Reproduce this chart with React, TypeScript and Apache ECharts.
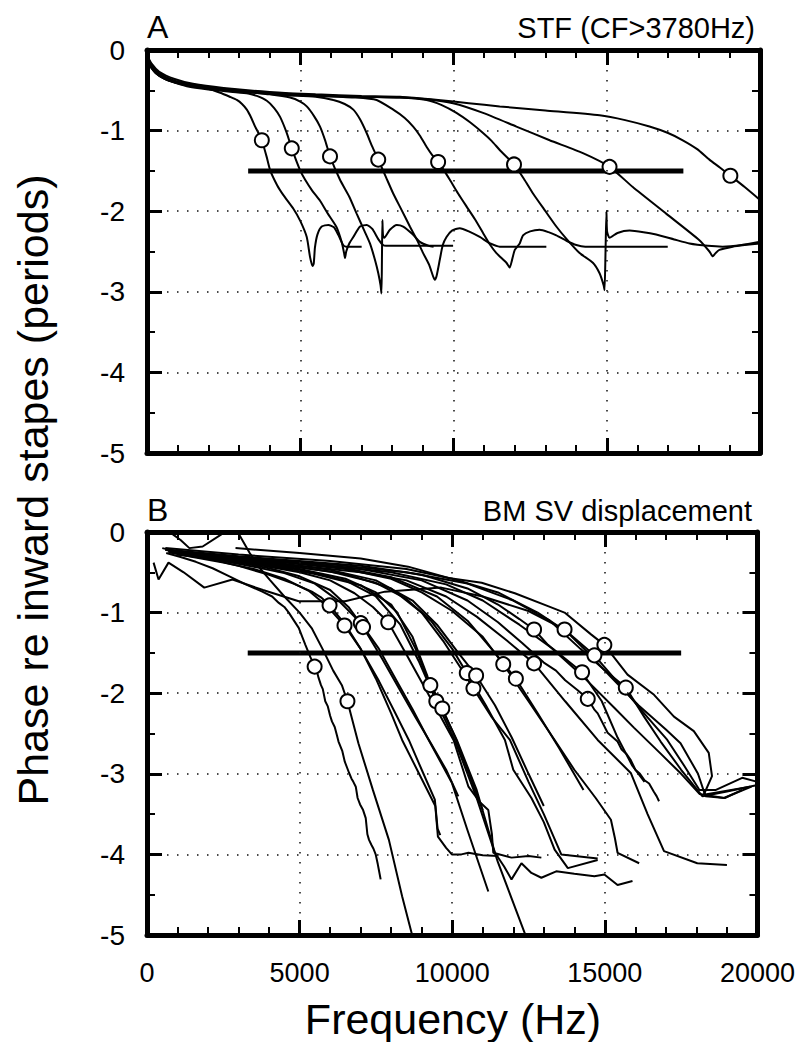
import React, { useEffect, useRef } from "react";
import * as echarts from "echarts";

// ---------- Axis ticks ----------
const freqTicks = [0, 5000, 10000, 15000, 20000];
const phaseTicks = [0, -1, -2, -3, -4, -5];
const criterionLevel = -1.5;
const criterionRange = [3300, 17500];

// ---------- Panel A: STF curves (frequency Hz, phase periods) ----------
const stfCF3750 = [[0,-0.06],[120,-0.2],[300,-0.29],[600,-0.36],[1000,-0.41],[1500,-0.44],[2000,-0.48],[2390,-0.53],[2700,-0.58],[2930,-0.62],[3100,-0.67],[3257,-0.74],[3400,-0.84],[3528,-0.95],[3650,-1.04],[3746,-1.12],[3900,-1.32],[4016,-1.49],[4250,-1.68],[4450,-1.8],[4776,-1.97],[5000,-2.12],[5212,-2.32],[5320,-2.57],[5400,-2.68],[5440,-2.65],[5480,-2.45],[5560,-2.29],[5700,-2.19],[5917,-2.17],[6100,-2.2],[6250,-2.3],[6400,-2.42],[6500,-2.44],[7003,-2.44]];
const stfCF4720 = [[0,-0.1],[150,-0.23],[400,-0.32],[800,-0.39],[1300,-0.45],[2000,-0.49],[2800,-0.52],[3300,-0.54],[3583,-0.57],[3909,-0.63],[4150,-0.72],[4342,-0.83],[4550,-1.02],[4723,-1.22],[4993,-1.49],[5160,-1.61],[5400,-1.75],[5645,-1.87],[5900,-2.03],[6188,-2.2],[6350,-2.38],[6430,-2.52],[6460,-2.58],[6500,-2.5],[6600,-2.4],[6731,-2.32],[6950,-2.19],[7166,-2.17],[7350,-2.22],[7550,-2.35],[7700,-2.42],[7800,-2.43],[9987,-2.43]];
const stfCF5970 = [[0,-0.05],[100,-0.17],[300,-0.29],[700,-0.38],[1200,-0.43],[2000,-0.47],[3000,-0.51],[4000,-0.55],[4668,-0.59],[5000,-0.64],[5212,-0.7],[5450,-0.82],[5645,-0.95],[5820,-1.13],[5971,-1.32],[6297,-1.61],[6600,-1.82],[6840,-2.03],[7100,-2.25],[7274,-2.4],[7450,-2.62],[7546,-2.77],[7620,-2.92],[7650,-3.02],[7665,-2.6],[7680,-2.11],[7700,-2.3],[7740,-2.33],[7925,-2.23],[8150,-2.17],[8358,-2.19],[8650,-2.28],[8903,-2.38],[9200,-2.43],[9350,-2.44]];
const stfCF7540 = [[0,-0.08],[150,-0.21],[400,-0.3],[900,-0.39],[1500,-0.44],[2500,-0.49],[3500,-0.53],[4500,-0.56],[5500,-0.58],[6080,-0.62],[6450,-0.67],[6731,-0.74],[6950,-0.86],[7166,-1.03],[7350,-1.2],[7544,-1.36],[7800,-1.58],[8033,-1.78],[8300,-1.98],[8577,-2.19],[8800,-2.35],[9010,-2.52],[9200,-2.66],[9336,-2.81],[9391,-2.85],[9450,-2.8],[9554,-2.6],[9650,-2.42],[9772,-2.32],[9950,-2.24],[10205,-2.21],[10500,-2.25],[10857,-2.32],[11200,-2.4],[11508,-2.44],[13029,-2.44]];
const stfCF9500 = [[0,-0.1],[150,-0.22],[500,-0.33],[1000,-0.4],[1700,-0.44],[2800,-0.5],[4000,-0.54],[5500,-0.57],[6800,-0.59],[7492,-0.62],[8033,-0.74],[8400,-0.84],[8685,-0.95],[8900,-1.06],[9120,-1.2],[9300,-1.3],[9498,-1.39],[9700,-1.5],[9880,-1.61],[10150,-1.78],[10423,-1.94],[10700,-2.1],[10964,-2.27],[11200,-2.42],[11400,-2.52],[11726,-2.64],[11834,-2.7],[11900,-2.62],[12000,-2.48],[12160,-2.4],[12268,-2.3],[12500,-2.25],[12811,-2.23],[13100,-2.26],[13355,-2.3],[13700,-2.37],[14007,-2.42],[14300,-2.44],[16990,-2.44]];
const stfCF11970 = [[0,-0.07],[150,-0.19],[400,-0.29],[900,-0.38],[1500,-0.43],[2500,-0.48],[4000,-0.53],[5500,-0.56],[7000,-0.58],[8254,-0.59],[9120,-0.62],[9600,-0.68],[10097,-0.78],[10550,-0.9],[10964,-1.03],[11250,-1.13],[11508,-1.24],[11974,-1.42],[12300,-1.6],[12594,-1.78],[13000,-2.0],[13355,-2.19],[13700,-2.35],[14114,-2.52],[14547,-2.64],[14766,-2.77],[14900,-2.92],[14929,-2.98],[14960,-2.5],[14990,-2.0],[15010,-2.25],[15091,-2.33],[15350,-2.27],[15743,-2.24],[16200,-2.26],[16612,-2.29],[17200,-2.35],[17698,-2.4],[18300,-2.43],[18782,-2.44],[19400,-2.42],[20000,-2.38]];
const stfCF15090 = [[0,-0.09],[150,-0.2],[400,-0.3],[900,-0.39],[1500,-0.44],[2500,-0.49],[4000,-0.53],[5500,-0.56],[7000,-0.58],[8254,-0.59],[9120,-0.61],[9987,-0.66],[10964,-0.78],[12052,-0.95],[13137,-1.12],[14222,-1.28],[15091,-1.45],[15850,-1.7],[16938,-2.03],[18023,-2.36],[18350,-2.5],[18458,-2.56],[18550,-2.52],[18675,-2.48],[19108,-2.44],[19500,-2.42],[20000,-2.4]];
const stfCF19030 = [[0,-0.06],[150,-0.17],[400,-0.27],[900,-0.36],[1500,-0.42],[2500,-0.47],[4000,-0.52],[5500,-0.55],[7000,-0.57],[8254,-0.58],[9500,-0.62],[10500,-0.66],[11508,-0.7],[13000,-0.75],[14766,-0.81],[15600,-0.87],[16395,-0.95],[17000,-1.03],[17480,-1.12],[17950,-1.23],[18349,-1.36],[18700,-1.46],[19033,-1.56],[19500,-1.7],[20000,-1.86]];
const stfCurves = [stfCF3750, stfCF4720, stfCF5970, stfCF7540, stfCF9500, stfCF11970, stfCF15090, stfCF19030];
const stfCircleF = [3746, 4723, 5971, 7544, 9498, 11974, 15091, 19033];
const stfCircleP = [-1.12, -1.22, -1.32, -1.36, -1.39, -1.42, -1.45, -1.56];

// ---------- Panel B: BM SV displacement curves ----------
const bm01 = [[630,-0.26],[1100,-0.31],[1600,-0.37],[2150,-0.45],[2700,-0.55],[3235,-0.65],[3778,-0.74],[4100,-0.8],[4319,-0.88],[4500,-0.93],[4645,-1.0],[4971,-1.19],[5189,-1.4],[5350,-1.55],[5492,-1.67],[5560,-1.72],[5622,-1.81],[5700,-1.9],[5760,-1.95],[5840,-2.1],[5920,-2.16],[6000,-2.28],[6059,-2.35],[6150,-2.42],[6220,-2.52],[6274,-2.6],[6400,-2.72],[6480,-2.85],[6622,-2.99],[6700,-3.06],[6760,-3.1],[6840,-3.16],[6900,-3.3],[6980,-3.38],[7080,-3.45],[7166,-3.55],[7220,-3.75],[7274,-3.82],[7350,-3.88],[7420,-3.93],[7492,-4.0],[7560,-4.12],[7600,-4.2],[7655,-4.31]];
const bm02 = [[846,-0.03],[1100,-0.1],[1389,-0.2],[1824,-0.18],[2476,-0.02],[2700,0.02],[3017,-0.03],[3365,-0.26],[3700,-0.45],[4016,-0.59],[4500,-0.8],[5000,-1.0],[5407,-1.2],[5750,-1.45],[6100,-1.72],[6384,-1.9],[6567,-2.1],[6926,-2.62],[7400,-3.2],[7925,-3.82],[8358,-4.52],[8720,-5.05]];
const bm03 = [[500,-0.2],[1200,-0.26],[2000,-0.33],[3000,-0.42],[4000,-0.53],[4800,-0.64],[5400,-0.74],[5700,-0.81],[5981,-0.91],[6500,-1.15],[7000,-1.45],[7500,-1.82],[8000,-2.25],[8358,-2.58],[8902,-2.99],[9446,-3.4],[9490,-3.6],[9531,-3.78],[9800,-3.92],[9987,-4.0],[10300,-4.0],[10531,-3.98],[11000,-4.01],[11508,-4.02]];
const bm04 = [[700,-0.25],[1500,-0.31],[2500,-0.38],[3500,-0.46],[4500,-0.58],[5300,-0.73],[5900,-0.92],[6470,-1.16],[7000,-1.45],[7600,-1.85],[8100,-2.22],[8577,-2.58],[9000,-2.95],[9430,-3.32],[9520,-3.68],[9608,-3.76]];
const bm05 = [[600,-0.22],[1500,-0.29],[2500,-0.36],[3500,-0.43],[4500,-0.51],[5500,-0.64],[6300,-0.86],[7003,-1.13],[7600,-1.45],[8200,-1.86],[8700,-2.2],[9228,-2.58],[9987,-3.11],[10500,-3.7],[11182,-4.46]];
const bm06 = [[1000,-0.27],[2000,-0.32],[3000,-0.38],[4000,-0.45],[5000,-0.55],[6000,-0.72],[6600,-0.93],[7078,-1.18],[7700,-1.57],[8300,-1.97],[8800,-2.3],[9300,-2.62],[9800,-2.95],[10200,-3.28]];
const bm07 = [[1000,-0.28],[2000,-0.33],[3500,-0.4],[5000,-0.5],[6000,-0.6],[6800,-0.76],[7400,-0.93],[7903,-1.12],[8500,-1.52],[9200,-2.0],[10042,-2.58],[10531,-3.16],[10900,-3.35],[11182,-3.45],[11300,-3.75],[11345,-3.98],[11942,-4.04],[12500,-4.02],[12920,-4.04]];
const bm08 = [[800,-0.23],[2000,-0.3],[3500,-0.37],[5000,-0.46],[6500,-0.58],[7500,-0.75],[8200,-1.0],[8800,-1.45],[9283,-1.9],[10150,-2.58],[10800,-3.2],[11400,-3.98],[11700,-4.15],[11942,-4.31],[12268,-4.11],[12594,-4.23],[12920,-4.29],[13407,-4.21],[14000,-4.24],[14658,-4.27],[14984,-4.25],[15417,-4.38],[15906,-4.33]];
const bm09 = [[700,-0.24],[2000,-0.31],[3500,-0.38],[5000,-0.47],[6500,-0.6],[7500,-0.8],[8300,-1.15],[8900,-1.6],[9478,-2.1],[10100,-2.6],[10800,-3.3],[11500,-4.1],[12378,-4.98],[12420,-5.05]];
const bm10 = [[900,-0.26],[2500,-0.34],[4000,-0.42],[5500,-0.52],[7000,-0.66],[8000,-0.9],[8700,-1.3],[9200,-1.8],[9674,-2.19],[10100,-2.55],[10600,-3.05],[11000,-3.45]];
const bm11 = [[800,-0.25],[2000,-0.31],[4000,-0.39],[6000,-0.49],[7500,-0.63],[8500,-0.83],[9300,-1.1],[10000,-1.45],[10476,-1.75],[11100,-2.15],[11726,-2.58],[12000,-2.95],[12594,-3.3],[13000,-3.6],[13355,-3.94],[13788,-4.17],[14765,-4.07]];
const bm12 = [[1000,-0.27],[2500,-0.33],[4500,-0.41],[6500,-0.52],[8000,-0.7],[9000,-1.0],[9700,-1.35],[10300,-1.7],[10694,-1.94],[11300,-2.3],[11889,-2.58],[12500,-3.1],[13000,-3.5],[13572,-4.0],[14765,-4.05]];
const bm13 = [[600,-0.22],[2000,-0.29],[4000,-0.37],[6000,-0.47],[7500,-0.6],[8700,-0.85],[9500,-1.15],[10200,-1.5],[10782,-1.78],[11400,-2.15],[11950,-2.55],[12500,-3.0],[13000,-3.4]];
const bm14 = [[900,-0.25],[2500,-0.31],[4500,-0.38],[6500,-0.46],[8000,-0.58],[9000,-0.75],[10000,-0.98],[11000,-1.3],[11671,-1.64],[12500,-2.1],[13355,-2.58],[14000,-2.95],[14700,-3.3],[15199,-3.57],[15330,-3.8],[15417,-3.98],[16124,-4.11]];
const bm15 = [[700,-0.23],[2500,-0.3],[4500,-0.37],[6500,-0.45],[8000,-0.56],[9500,-0.8],[10500,-1.1],[11400,-1.5],[12085,-1.82],[12800,-2.25],[13500,-2.68],[14300,-3.2]];
const bm16 = [[1000,-0.28],[3000,-0.35],[5000,-0.42],[7000,-0.5],[8500,-0.6],[9800,-0.8],[10800,-1.05],[11800,-1.35],[12681,-1.63],[13700,-2.1],[14765,-2.58],[15850,-2.99],[16400,-3.5],[16938,-3.96],[18029,-4.11],[19000,-4.13]];
const bm17 = [[800,-0.24],[3000,-0.32],[5000,-0.38],[7000,-0.46],[9000,-0.6],[10500,-0.85],[11500,-1.12],[12300,-1.38],[13000,-1.62],[13400,-1.72],[13700,-1.84],[14100,-1.96],[14440,-2.07],[14650,-2.2],[14766,-2.25],[15091,-2.49],[15417,-2.6],[15550,-2.7],[15700,-2.75],[15850,-2.83],[16000,-2.95],[16150,-3.0],[16300,-3.08],[16450,-3.12],[16600,-3.22],[16700,-3.28],[16775,-3.34]];
const bm18 = [[700,-0.22],[3000,-0.3],[5000,-0.36],[7000,-0.42],[9000,-0.53],[10500,-0.7],[11500,-0.9],[12200,-1.08],[12681,-1.21],[13137,-1.4],[14221,-1.77],[15309,-2.18],[15960,-2.43],[16828,-2.75],[17500,-3.0],[18100,-3.25],[18900,-3.3],[19805,-3.16]];
const bm19 = [[215,-0.38],[378,-0.59],[704,-0.38],[1200,-0.5],[1876,-0.69],[2801,-0.59],[3800,-0.72],[4971,-0.86],[6492,-0.86],[7795,-0.74],[9641,-0.69],[11000,-0.8],[12500,-0.98],[13680,-1.21],[14400,-1.48],[15200,-1.8],[16100,-2.15],[17000,-2.45],[17480,-2.62],[18052,-3.0],[18300,-3.28],[18929,-3.3],[19500,-3.2]];
const bm20 = [[900,-0.25],[3000,-0.32],[5500,-0.4],[8000,-0.5],[9800,-0.65],[11000,-0.85],[12200,-1.15],[13300,-1.45],[14254,-1.74],[14900,-2.1],[15417,-2.55],[15900,-2.9],[16300,-3.1]];
const bm21 = [[600,-0.2],[3000,-0.28],[6000,-0.36],[8500,-0.46],[10000,-0.58],[11500,-0.75],[12800,-1.0],[13800,-1.25],[14658,-1.53],[15500,-1.9],[16400,-2.3],[17046,-2.58],[17600,-2.9],[18100,-3.2],[18640,-3.2],[19500,-3.05],[20000,-3.1]];
const bm22 = [[2900,-0.2],[5000,-0.26],[7000,-0.33],[8554,-0.43],[9880,-0.57],[10964,-0.63],[12052,-0.76],[13137,-0.92],[13680,-1.0],[14547,-1.27],[14984,-1.4],[15743,-1.77],[16612,-2.02],[17264,-2.29],[17915,-2.47],[18404,-2.74],[18511,-3.03],[18241,-3.26],[19760,-3.16]];
const bm23 = [[1000,-0.26],[3500,-0.33],[6000,-0.4],[8500,-0.5],[10500,-0.64],[12000,-0.85],[13200,-1.1],[14200,-1.45],[14950,-1.7],[15687,-1.93],[16300,-2.3],[16828,-2.6],[17500,-2.95],[18200,-3.28],[19000,-3.22],[20000,-3.14]];
const bmCurves = [bm01, bm02, bm03, bm04, bm05, bm06, bm07, bm08, bm09, bm10, bm11, bm12, bm13, bm14, bm15, bm16, bm17, bm18, bm19, bm20, bm21, bm22, bm23];
const bmCircleF = [5492, 5981, 6470, 6567, 7003, 7078, 7903, 9283, 9478, 9674, 10476, 10694, 10782, 11671, 12085, 12681, 12681, 13680, 14254, 14440, 14658, 14984, 15687];
const bmCircleP = [-1.67, -0.91, -1.16, -2.1, -1.13, -1.18, -1.12, -1.9, -2.1, -2.19, -1.75, -1.94, -1.78, -1.64, -1.82, -1.63, -1.21, -1.21, -1.74, -2.07, -1.53, -1.4, -1.93];

const FONT = "'Liberation Sans', Arial, Helvetica, sans-serif";

function xAxesFor(grid: number, showLabels: boolean) {
  const base: any = {
    gridIndex: grid,
    type: "value",
    min: freqTicks[0],
    max: freqTicks[freqTicks.length - 1],
    interval: 5000,
    z: 10,
    axisLine: { show: true, onZero: false, lineStyle: { color: "#000", width: 5 } },
    axisTick: { show: true, inside: true, length: 15, lineStyle: { color: "#000", width: 3 } },
    minorTick: { show: true, splitNumber: 5, length: 8, lineStyle: { color: "#000", width: 2 } },
  };
  return [
    {
      ...base,
      position: "bottom",
      splitLine: { show: true, lineStyle: { color: "#111", width: 1.5, type: [1.5, 8.5] } },
      axisLabel: { show: showLabels, margin: 24, color: "#000", fontSize: 27, fontFamily: FONT, formatter: (v: number) => String(v) },
    },
    { ...base, position: "top", axisLabel: { show: false }, splitLine: { show: false } },
  ];
}

function yAxesFor(grid: number) {
  const base: any = {
    gridIndex: grid,
    type: "value",
    min: phaseTicks[phaseTicks.length - 1],
    max: phaseTicks[0],
    interval: 1,
    z: 10,
    axisLine: { show: true, onZero: false, lineStyle: { color: "#000", width: 5 } },
    axisTick: { show: true, inside: true, length: 15, lineStyle: { color: "#000", width: 3 } },
    minorTick: { show: true, splitNumber: 2, length: 8, lineStyle: { color: "#000", width: 2 } },
  };
  return [
    {
      ...base,
      position: "left",
      splitLine: { show: true, lineStyle: { color: "#111", width: 1.5, type: [1.5, 8.5] } },
      axisLabel: { show: true, margin: 22, color: "#000", fontSize: 28, fontFamily: FONT, formatter: (v: number) => String(v) },
    },
    { ...base, position: "right", axisLabel: { show: false }, splitLine: { show: false } },
  ];
}

function buildOption() {
  const lineBase = { type: "line", showSymbol: false, symbol: "none", lineStyle: { color: "#000", width: 2 } };
  const series: any[] = [
    ...stfCurves.map((c) => ({ ...lineBase, xAxisIndex: 0, yAxisIndex: 0, smooth: 0.2, data: c.map((p) => [p[0], p[1]]) })),
    ...bmCurves.map((c) => ({ ...lineBase, xAxisIndex: 2, yAxisIndex: 2, smooth: 0, data: c.map((p) => [p[0], p[1]]) })),
  ];
  [0, 2].forEach((ax) => {
    series.push({
      type: "line", xAxisIndex: ax, yAxisIndex: ax, showSymbol: false, symbol: "none",
      data: [[criterionRange[0], criterionLevel], [criterionRange[1], criterionLevel]],
      lineStyle: { color: "#000", width: 5 },
    });
  });
  const circleStyle = { color: "#fff", borderColor: "#000", borderWidth: 2, opacity: 1 };
  series.push({ type: "scatter", xAxisIndex: 0, yAxisIndex: 0, symbol: "circle", symbolSize: 14, itemStyle: circleStyle, z: 6,
    data: stfCircleF.map((f, i) => [f, stfCircleP[i]]) });
  series.push({ type: "scatter", xAxisIndex: 2, yAxisIndex: 2, symbol: "circle", symbolSize: 14, itemStyle: circleStyle, z: 6,
    data: bmCircleF.map((f, i) => [f, bmCircleP[i]]) });

  return {
    animation: false,
    grid: [
      { left: 139, top: 42, width: 613, height: 403 },
      { left: 139, top: 524, width: 613, height: 403 },
    ],
    xAxis: [...xAxesFor(0, false), ...xAxesFor(1, true)],
    yAxis: [...yAxesFor(0), ...yAxesFor(1)],
    series,
    graphic: [
      { type: "text", x: 139, y: 19, style: { text: "A", font: `32px ${FONT}`, fill: "#000", textAlign: "left", textVerticalAlign: "middle" } },
      { type: "text", x: 747, y: 20, style: { text: "STF (CF>3780Hz)", font: `29px ${FONT}`, fill: "#000", textAlign: "right", textVerticalAlign: "middle" } },
      { type: "text", x: 139, y: 502, style: { text: "B", font: `32px ${FONT}`, fill: "#000", textAlign: "left", textVerticalAlign: "middle" } },
      { type: "text", x: 744, y: 503, style: { text: "BM SV displacement", font: `29px ${FONT}`, fill: "#000", textAlign: "right", textVerticalAlign: "middle" } },
      { type: "text", x: 445, y: 1011, style: { text: "Frequency (Hz)", font: `43px ${FONT}`, fill: "#000", textAlign: "center", textVerticalAlign: "middle" } },
      { type: "text", x: 25, y: 482, rotation: Math.PI / 2, style: { text: "Phase re inward stapes (periods)", font: `43px ${FONT}`, fill: "#000", textAlign: "center", textVerticalAlign: "middle" } },
    ],
  };
}

export default function App() {
  const ref = useRef<HTMLDivElement>(null);
  useEffect(() => {
    if (!ref.current) return;
    const chart = echarts.init(ref.current, null, { renderer: "svg" });
    chart.setOption(buildOption());
    return () => chart.dispose();
  }, []);
  return <div ref={ref} style={{ width: 790, height: 1034 }} />;
}
